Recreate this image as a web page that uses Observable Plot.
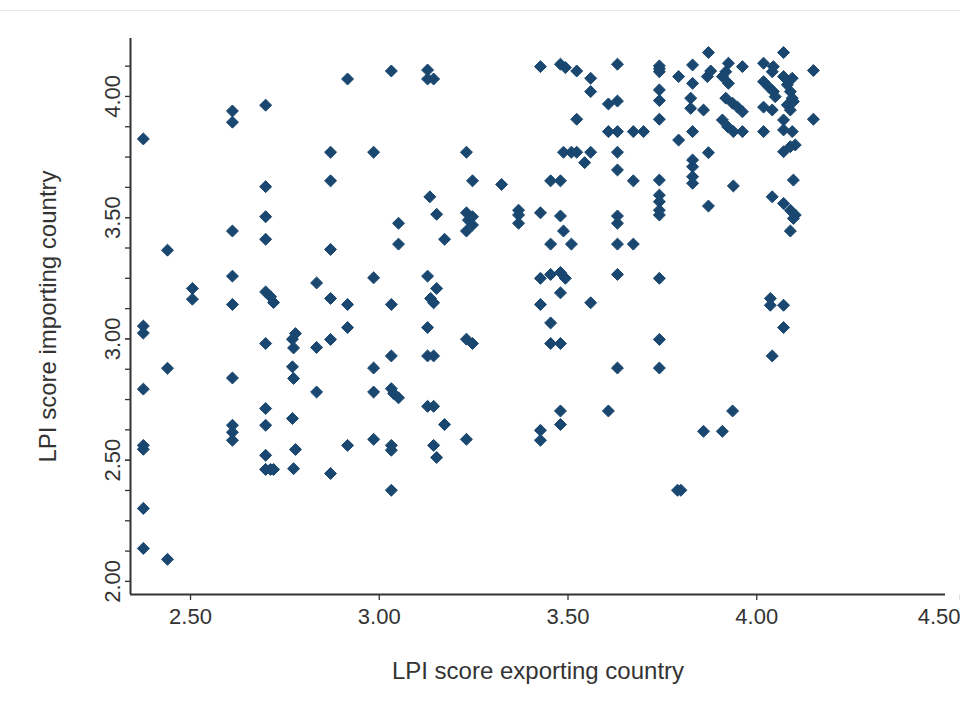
<!DOCTYPE html>
<html>
<head>
<meta charset="utf-8">
<script src="https://cdn.jsdelivr.net/npm/d3@7"></script>
<script src="https://cdn.jsdelivr.net/npm/@observablehq/plot@0.6"></script>
<style>
  body { margin: 0; background: #fff; }
  #topline { position: absolute; left: 0; top: 10px; width: 960px; height: 0; border-top: 1px solid #e4e9ee; }
  #chart { position: absolute; left: 0; top: 0; }
</style>
</head>
<body>
<div id="topline"></div>
<div id="chart"></div>
<script>
// LPI score of the exporting country (x), one entry per column of points
const exportScores = [2.375, 2.439, 2.505, 2.611, 2.699, 2.712, 2.720, 2.770, 2.773, 2.778,
  2.834, 2.871, 2.916, 2.985, 3.032, 3.038, 3.051, 3.128, 3.134, 3.136,
  3.144, 3.152, 3.173, 3.231, 3.236, 3.247, 3.324, 3.369, 3.427, 3.454,
  3.480, 3.488, 3.493, 3.509, 3.523, 3.544, 3.560, 3.607, 3.631, 3.673,
  3.700, 3.742, 3.790, 3.793, 3.799, 3.825, 3.830, 3.859, 3.869, 3.872,
  3.878, 3.909, 3.918, 3.923, 3.925, 3.936, 3.938, 3.949, 3.962, 4.018,
  4.031, 4.036, 4.041, 4.044, 4.049, 4.071, 4.081, 4.089, 4.094, 4.097,
  4.102, 4.150];

// LPI score of the importing country (y) for each exporter column above
const importScores = [
  [3.825, 3.053, 3.024, 2.793, 2.561, 2.545, 2.301, 2.136],
  [3.366, 2.879, 2.091],
  [3.208, 3.164],
  [3.940, 3.894, 3.445, 3.259, 3.142, 2.839, 2.644, 2.615, 2.582],
  [3.964, 3.628, 3.504, 3.411, 3.194, 2.981, 2.713, 2.644, 2.520, 2.462],
  [3.174, 2.462],
  [3.150, 2.462],
  [2.999, 2.885, 2.672],
  [2.963, 2.837, 2.465],
  [3.022, 2.544],
  [3.231, 2.965, 2.781],
  [3.770, 3.652, 3.369, 3.167, 2.998, 2.445],
  [4.072, 3.142, 3.047, 2.561],
  [3.770, 3.252, 2.880, 2.781, 2.586],
  [4.105, 3.142, 2.930, 2.795, 2.561, 2.541, 2.376],
  [2.775],
  [3.477, 3.391, 2.757],
  [4.109, 4.072, 3.259, 3.047, 2.930, 2.722],
  [3.586],
  [3.167],
  [4.072, 3.149, 2.930, 2.722, 2.561],
  [3.514, 3.208, 2.511],
  [3.411, 2.647],
  [3.770, 3.520, 3.445, 2.999, 2.586],
  [3.490],
  [3.652, 3.504, 3.470, 2.981],
  [3.637],
  [3.531, 3.511, 3.477],
  [4.123, 3.520, 3.250, 3.142, 2.623, 2.582],
  [3.652, 3.391, 3.266, 3.066, 2.981],
  [4.133, 3.652, 3.507, 3.274, 3.190, 2.981, 2.703, 2.647],
  [3.770, 3.445],
  [4.119, 3.250],
  [3.770, 3.391],
  [4.105, 3.906, 3.770],
  [3.727],
  [4.075, 4.020, 3.770, 3.149],
  [3.969, 3.855, 2.703],
  [4.133, 3.981, 3.855, 3.770, 3.697, 3.507, 3.477, 3.391, 3.266, 2.880],
  [3.855, 3.652, 3.391],
  [3.855],
  [4.126, 4.114, 4.102, 4.027, 3.983, 3.906, 3.655, 3.593, 3.566, 3.531, 3.511, 3.250, 2.998, 2.880],
  [2.376],
  [4.082, 3.820],
  [2.376],
  [3.993, 3.951],
  [4.130, 4.054, 3.855, 3.738, 3.710, 3.669, 3.642],
  [3.944, 2.619],
  [4.082],
  [4.181, 3.768, 3.548],
  [4.105],
  [4.082, 3.903, 2.619],
  [4.102, 3.993],
  [3.875],
  [4.137, 4.054],
  [3.972, 2.703],
  [3.855, 3.631],
  [3.956],
  [4.123, 3.937, 3.855],
  [4.137, 4.061, 3.956, 3.855],
  [4.040],
  [3.167, 3.139],
  [4.102, 3.944, 3.586, 2.930],
  [4.123, 4.020],
  [3.999],
  [4.181, 4.082, 3.903, 3.862, 3.772, 3.559, 3.139, 3.047],
  [4.048, 3.965],
  [4.020, 3.944, 3.793, 3.531, 3.445],
  [4.075, 3.993, 3.855],
  [3.979, 3.655, 3.497],
  [3.800, 3.511],
  [4.107, 3.906]
];

const xTickValues = [2.5, 3.0, 3.5, 4.0];
const xLastTick = [4.5];
const yTickValues = [2.0, 2.5, 3.0, 3.5, 4.0];
const yMinorTickValues = [2.0, 2.125, 2.25, 2.375, 2.5, 2.625, 2.75, 2.875, 3.0, 3.125, 3.25, 3.375, 3.5, 3.625, 3.75, 3.875, 4.0, 4.125];
const xTitle = "LPI score exporting country";
const yTitle = "LPI score importing country";
const xDomain = [2.341, 4.5];
const yDomain = [1.946, 4.239];

const points = exportScores.flatMap((x, i) => (importScores[i] || []).map(y => ({x, y})));

const fontFamily = "'Liberation Sans', Arial, sans-serif";
const ink = "#333";
const chart = Plot.plot({
  width: 960,
  height: 707,
  marginLeft: 130,
  marginRight: 15,
  marginTop: 38,
  marginBottom: 113,
  style: {fontFamily, color: ink, background: "transparent"},
  x: {domain: xDomain},
  y: {domain: yDomain},
  marks: [
    Plot.axisY(yMinorTickValues, {tickSize: 5, tickFormat: () => "", label: null, stroke: ink, strokeWidth: 1.3}),
    Plot.axisY(yTickValues, {tickSize: 5, tickFormat: d => d.toFixed(2), tickRotate: -90, fontSize: 22, tickPadding: 6, label: null, stroke: ink, fill: ink}),
    Plot.axisX(xTickValues, {tickSize: 6, tickFormat: d => d.toFixed(2), fontSize: 22, tickPadding: 8, label: null, stroke: ink, fill: ink, strokeWidth: 1.3}),
    Plot.axisX(xLastTick, {tickSize: 6, tickFormat: d => d.toFixed(2), fontSize: 22, tickPadding: 8, label: null, stroke: ink, fill: ink, strokeWidth: 1.3, textAnchor: "end", dx: 15}),
    Plot.ruleX([xDomain[0]], {stroke: ink, strokeWidth: 2}),
    Plot.ruleY([yDomain[0]], {stroke: ink, strokeWidth: 2}),
    Plot.dot(points, {x: "x", y: "y", symbol: "diamond2", r: 5.4, fill: "#1a476f", stroke: "#1a476f", strokeWidth: 1, strokeLinejoin: "round"}),
    Plot.text([xTitle], {frameAnchor: "bottom", dy: 77, lineAnchor: "middle", text: d => d, fontSize: 24, fill: ink}),
    Plot.text([yTitle], {frameAnchor: "left", dx: -82, rotate: -90, textAnchor: "middle", lineAnchor: "middle", text: d => d, fontSize: 24, fill: ink})
  ]
});
document.getElementById("chart").appendChild(chart);
</script>
</body>
</html>
